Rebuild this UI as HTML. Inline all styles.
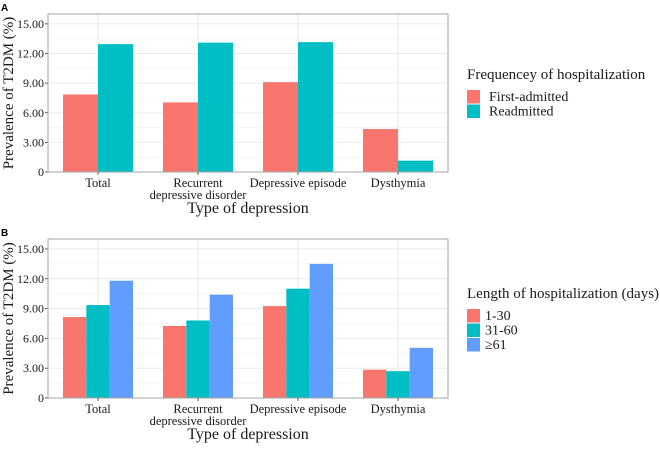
<!DOCTYPE html>
<html><head><meta charset="utf-8"><style>
body{margin:0;background:#fff}
</style></head><body>
<svg id="c" width="660" height="444" xmlns="http://www.w3.org/2000/svg"></svg>
<script>
const categories=["Total","Recurrent|depressive disorder","Depressive episode","Dysthymia"];
const yTicks=[0,3,6,9,12,15];
const yTickLabels=["0","3.00","6.00","9.00","12.00","15.00"];
const seriesANames=["First-admitted","Readmitted"];
const firstAdmitted=[7.85,7.05,9.1,4.35];
const readmitted=[12.95,13.1,13.15,1.15];
const seriesBNames=["1-30","31-60","\u226561"];
const days1to30=[8.15,7.25,9.25,2.85];
const days31to60=[9.35,7.8,11.0,2.7];
const days61plus=[11.8,10.4,13.5,5.05];
const colors=["#F8766D","#00BFC4","#619CFF"];
const NS="http://www.w3.org/2000/svg";
const SERIF="font-family:'Liberation Serif',serif;fill:#1a1a1a;";
const svg=document.getElementById('c');
function mk(tag,attrs,parent,txt){const e=document.createElementNS(NS,tag);for(const k in attrs)e.setAttribute(k,attrs[k]);if(txt!==undefined)e.textContent=txt;(parent||svg).appendChild(e);return e;}
function tx(attrs,parent,txt,size,extra){attrs.style=SERIF+'font-size:'+size+'px;'+(extra||'');return mk('text',attrs,parent,txt);}
function panel(opt){
  const g=mk('g',{});
  
  
  const L=48,R=448,T=opt.top,B=opt.bottom;
  const y=v=>B-(v/16)*(B-T);
  const step=(R-L)/categories.length;
  const x=i=>L+step*(i+0.5);
  const lab=mk('text',{x:1,y:T-3,style:"font-family:'Liberation Sans',sans-serif;font-weight:bold;font-size:10px;fill:#000"},g,opt.letter);
  
  yTicks.forEach((t,i)=>{
    if(i<yTicks.length-1){const m=(t+yTicks[i+1])/2;mk('line',{x1:L,x2:R,y1:y(m),y2:y(m),stroke:'#f2f2f2','stroke-width':0.6},g);}
    mk('line',{x1:L,x2:R,y1:y(t),y2:y(t),stroke:'#ebebeb','stroke-width':1.1},g);
    const tl=tx({x:L-4,y:y(t)+4,'text-anchor':'end'},g,yTickLabels[i],12);
    
    mk('line',{x1:L-3,x2:L,y1:y(t),y2:y(t),stroke:'#333','stroke-width':0.8},g);
  });
  categories.forEach((c,i)=>mk('line',{x1:x(i),x2:x(i),y1:T,y2:B,stroke:'#ebebeb','stroke-width':1.1},g));
  const n=opt.series.length,gw=step*0.7,bw=gw/n;
  opt.series.forEach((s,si)=>s.forEach((v,i)=>{
    const bx=x(i)-gw/2+si*bw;
    const r=mk('rect',{x:bx,y:y(v),width:bw,height:y(0)-y(v),fill:colors[si]},g);
    
    
  }));
  mk('rect',{x:L,y:T,width:R-L,height:B-T,fill:'none',stroke:'#a6a6a6','stroke-width':1},g);
  categories.forEach((c,i)=>{
    mk('line',{x1:x(i),x2:x(i),y1:B,y2:B+3,stroke:'#333','stroke-width':0.8},g);
    c.split('|').forEach((p,k)=>{
      const t=tx({x:x(i),y:B+15+k*12,'text-anchor':'middle'},g,p,12.5);
      
    });
  });
  const xt=tx({x:(L+R)/2,y:B+41,'text-anchor':'middle'},g,'Type of depression',16);
  
  const yt=tx({x:0,y:0,'text-anchor':'middle',transform:`translate(13,${(T+B)/2}) rotate(-90)`},g,'Prevalence of T2DM (%)',15);
  
  const lg=mk('g',{},g);
  
  tx({x:467,y:opt.legY},lg,opt.legTitle,15);
  opt.names.forEach((nm,k)=>{
    const ky=opt.legY+11+k*14.5;
    const kr=mk('rect',{x:467,y:ky,width:13,height:13.5,fill:colors[k]},lg);
    
    const kt=tx({x:opt.legX,y:ky+11},lg,nm,14);
    
  });
}
panel({name:'panel-a',letter:'A',top:14,bottom:172,series:[firstAdmitted,readmitted],names:seriesANames,legTitle:'Frequencey of hospitalization',legY:79,legX:489});
panel({name:'panel-b',letter:'B',top:239,bottom:398,series:[days1to30,days31to60,days61plus],names:seriesBNames,legTitle:'Length of hospitalization (days)',legY:298,legX:485});
</script>
</body></html>
